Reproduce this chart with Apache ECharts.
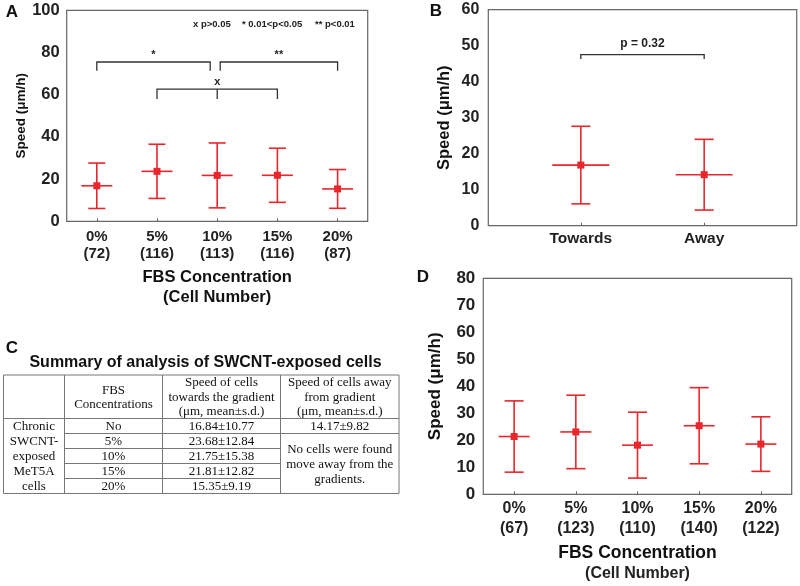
<!DOCTYPE html>
<html><head><meta charset="utf-8">
<script src="https://cdn.jsdelivr.net/npm/echarts@6/dist/echarts.min.js"></script>
<style>html,body{margin:0;padding:0;background:#fff}#c{width:800px;height:586px}</style>
</head><body><div id="c"></div>
<script>
// ---------- data ----------
const catsA = ['0%', '5%', '10%', '15%', '20%'];
const cellsA = [72, 116, 113, 116, 87];
const meanA = [16.84, 23.68, 21.75, 21.81, 15.35];
const sdA = [10.77, 12.84, 15.38, 12.82, 9.19];
const ticksA = [0, 20, 40, 60, 80, 100];

const catsB = ['Towards', 'Away'];
const meanB = [16.84, 14.17];
const sdB = [10.77, 9.82];
const ticksB = [0, 10, 20, 30, 40, 50, 60];

const catsD = ['0%', '5%', '10%', '15%', '20%'];
const cellsD = [67, 123, 110, 140, 122];
const meanD = [21.4, 23.1, 18.2, 25.4, 18.6];
const sdD = [13.2, 13.6, 12.2, 14.1, 10.1];
const ticksD = [0, 10, 20, 30, 40, 50, 60, 70, 80];

// significance brackets (panel A)
const brFromA = [0, 2, 1];
const brToA = [2, 4, 3];
const brYA = [75.5, 75.5, 62.6];
const brTipA = [71.3, 71.3, 58.0];
const brLabelA = ['*', '**', 'x'];
const brMidA = [false, false, true];
// panel B bracket
const brFromB = [0];
const brToB = [1];
const brYB = [47.5];
const brTipB = [46.3];
const brLabelB = ['p = 0.32'];

const legendA = ['x p>0.05', '* 0.01<p<0.05', '** p<0.01'];
const tableTitle = 'Summary of analysis of SWCNT-exposed cells';
const tableHead = ['', 'FBS\nConcentrations', 'Speed of cells\ntowards the gradient\n(\u03bcm, mean\u00b1s.d.)', 'Speed of cells away\nfrom gradient\n(\u03bcm, mean\u00b1s.d.)'];
const tableRowHead = 'Chronic\nSWCNT-\nexposed\nMeT5A\ncells';
const tableConc = ['No', '5%', '10%', '15%', '20%'];
const tableNote = 'No cells were found\nmove away from the\ngradients.';

// ---------- styles ----------
const RED = '#e8262c';
const LW = 1.6;
const SANS = '"Liberation Sans", Arial, sans-serif';
const SERIF = '"Liberation Serif", "Times New Roman", serif';
const FRAME = '#666';

function errRender(capW, meanW, sq) {
  return function (params, api) {
    const x = api.value(0), m = api.value(1), s = api.value(2);
    const c = api.coord([x, m]);
    const t = api.coord([x, m + s]);
    const b = api.coord([x, m - s]);
    const st = { stroke: RED, lineWidth: LW };
    return {
      type: 'group',
      children: [
        { type: 'line', shape: { x1: c[0], y1: t[1], x2: c[0], y2: b[1] }, style: st },
        { type: 'line', shape: { x1: c[0] - capW / 2, y1: t[1], x2: c[0] + capW / 2, y2: t[1] }, style: st },
        { type: 'line', shape: { x1: c[0] - capW / 2, y1: b[1], x2: c[0] + capW / 2, y2: b[1] }, style: st },
        { type: 'line', shape: { x1: c[0] - meanW / 2, y1: c[1], x2: c[0] + meanW / 2, y2: c[1] }, style: st },
        { type: 'rect', shape: { x: c[0] - sq / 2, y: c[1] - sq / 2, width: sq, height: sq }, style: { fill: RED } }
      ]
    };
  };
}

function bracketRender(labels, gapL, gapR, labelOff, fontSize, midFlags) {
  return function (params, api) {
    const i = params.dataIndex;
    const f = api.value(0), to = api.value(1), y = api.value(2), tip = api.value(3);
    const p1 = api.coord([f, y]), p2 = api.coord([to, y]);
    const t1 = api.coord([f, tip]);
    const x1 = p1[0] + gapL[i], x2 = p2[0] - gapR[i];
    const st = { stroke: '#333', lineWidth: 1.3, fill: null };
    const ch = [
      { type: 'polyline', shape: { points: [[x1, t1[1]], [x1, p1[1]], [x2, p1[1]], [x2, t1[1]]] }, style: st },
      { type: 'text', style: { text: labels[i], x: (x1 + x2) / 2, y: p1[1] - labelOff, align: 'center', verticalAlign: 'middle', font: 'bold ' + fontSize + 'px ' + SANS, fill: '#222' } }
    ];
    if (midFlags && midFlags[i]) {
      const mx = (p1[0] + p2[0]) / 2;
      ch[1].style.x = mx;
      ch.push({ type: 'line', shape: { x1: mx, y1: p1[1], x2: mx, y2: t1[1] }, style: st });
    }
    return { type: 'group', children: ch };
  };
}

function yLab(size, margin) {
  return { margin: margin, fontSize: size, fontWeight: 'bold', fontFamily: SANS, color: '#222' };
}

// ---------- table graphic ----------
const colX = [3.5, 64.5, 162.5, 280.5, 399];
const rowY = [375, 418.5, 433.5, 448.5, 463.5, 478.5, 493.5];
const g = [];
const lineSt = { stroke: '#777', lineWidth: 1 };
g.push({ type: 'rect', shape: { x: colX[0], y: rowY[0], width: colX[4] - colX[0], height: rowY[6] - rowY[0] }, style: { fill: null, stroke: '#777', lineWidth: 1 } });
for (let k = 1; k < 4; k++) g.push({ type: 'line', shape: { x1: colX[k], y1: rowY[0], x2: colX[k], y2: rowY[6] }, style: lineSt });
g.push({ type: 'line', shape: { x1: colX[0], y1: rowY[1], x2: colX[4], y2: rowY[1] }, style: lineSt });
g.push({ type: 'line', shape: { x1: colX[1], y1: rowY[2], x2: colX[4], y2: rowY[2] }, style: lineSt });
for (let r = 3; r < 6; r++) g.push({ type: 'line', shape: { x1: colX[1], y1: rowY[r], x2: colX[3], y2: rowY[r] }, style: lineSt });
const tfont = '13px ' + SERIF;
function cellText(txt, cx, cy, lh) {
  g.push({ type: 'text', style: { text: txt, x: cx, y: cy, align: 'center', verticalAlign: 'middle', font: tfont, lineHeight: lh || 14, fill: '#111' } });
}
for (let k = 1; k < 4; k++) cellText(tableHead[k], (colX[k] + colX[k + 1]) / 2, (rowY[0] + rowY[1]) / 2 + 0.5, 14.2);
cellText(tableRowHead, (colX[0] + colX[1]) / 2, (rowY[1] + rowY[6]) / 2 + 0.5, 14.8);
for (let r = 0; r < 5; r++) {
  const cy = (rowY[r + 1] + rowY[r + 2]) / 2 + 0.5;
  cellText(tableConc[r], (colX[1] + colX[2]) / 2, cy);
  cellText(meanA[r].toFixed(2) + '\u00b1' + sdA[r].toFixed(2), (colX[2] + colX[3]) / 2, cy);
}
cellText(meanB[1].toFixed(2) + '\u00b1' + sdB[1].toFixed(2), (colX[3] + colX[4]) / 2, (rowY[1] + rowY[2]) / 2 + 0.5);
cellText(tableNote, (colX[3] + colX[4]) / 2, (rowY[2] + rowY[6]) / 2 + 1, 15);
g.push({ type: 'text', style: { text: tableTitle, x: 205.5, y: 363, align: 'center', verticalAlign: 'middle', font: 'bold 16px ' + SANS, fill: '#111' } });
// panel letters
[['A', 12, 12], ['B', 436, 11], ['C', 12, 348], ['D', 423, 277]].forEach(function (p) {
  g.push({ type: 'text', style: { text: p[0], x: p[1], y: p[2], align: 'center', verticalAlign: 'middle', font: 'bold 17px ' + SANS, fill: '#111' } });
});
// legend text in A
[[193, legendA[0]], [242, legendA[1]], [315, legendA[2]]].forEach(function (p) {
  g.push({ type: 'text', style: { text: p[1], x: p[0], y: 24, align: 'left', verticalAlign: 'middle', font: 'bold 9.5px ' + SANS, fill: '#222' } });
});

const chart = echarts.init(document.getElementById('c'));
chart.setOption({
  animation: false,
  backgroundColor: '#fff',
  grid: [
    { left: 66.7, top: 10.3, width: 301, height: 211, show: true, borderColor: FRAME, borderWidth: 1.2, containLabel: false },
    { left: 488.3, top: 9.7, width: 308.4, height: 216, show: true, borderColor: FRAME, borderWidth: 1.2, containLabel: false },
    { left: 483.3, top: 278.3, width: 308.4, height: 216, show: true, borderColor: FRAME, borderWidth: 1.2, containLabel: false }
  ],
  xAxis: [
    {
      gridIndex: 0, type: 'category', data: catsA, boundaryGap: true,
      axisLine: { show: false },
      axisTick: { show: true, inside: true, length: 3, alignWithLabel: true, lineStyle: { color: FRAME } },
      axisLabel: { margin: 7, fontSize: 15, lineHeight: 17, fontWeight: 'bold', fontFamily: SANS, color: '#222', formatter: function (v, i) { return v + '\n(' + cellsA[i] + ')'; } },
      name: '{a|FBS Concentration}\n{a|(Cell Number)}', nameLocation: 'middle', nameGap: 46,
      nameTextStyle: { rich: { a: { fontSize: 16.5, fontWeight: 'bold', fontFamily: SANS, color: '#111', lineHeight: 20 } } }
    },
    {
      gridIndex: 1, type: 'value', min: -0.75, max: 1.75,
      splitLine: { show: false }, axisLine: { show: false },
      axisTick: { show: true, inside: true, length: 3, customValues: [0, 1], lineStyle: { color: FRAME } },
      axisLabel: { customValues: [0, 1], margin: 5, fontSize: 15.5, lineHeight: 16, fontWeight: 'bold', fontFamily: SANS, color: '#222', formatter: function (v) { return catsB[Math.round(v)]; } }
    },
    {
      gridIndex: 2, type: 'category', data: catsD, boundaryGap: true,
      axisLine: { show: false },
      axisTick: { show: true, inside: true, length: 3, alignWithLabel: true, lineStyle: { color: FRAME } },
      axisLabel: { margin: 4, fontSize: 16, lineHeight: 20, fontWeight: 'bold', fontFamily: SANS, color: '#222', formatter: function (v, i) { return v + '\n(' + cellsD[i] + ')'; } },
      name: '{a|FBS Concentration}\n{b|(Cell Number)}', nameLocation: 'middle', nameGap: 48,
      nameTextStyle: { rich: {
        a: { fontSize: 17.5, fontWeight: 'bold', fontFamily: SANS, color: '#111', lineHeight: 21 },
        b: { fontSize: 16, fontWeight: 'bold', fontFamily: SANS, color: '#222', lineHeight: 21 } } }
    }
  ],
  yAxis: [
    {
      gridIndex: 0, type: 'value', min: ticksA[0], max: ticksA[ticksA.length - 1], interval: ticksA[1] - ticksA[0],
      splitLine: { show: false }, axisLine: { show: false }, axisTick: { show: false },
      axisLabel: yLab(16.5, 7),
      name: 'Speed (\u03bcm/h)', nameLocation: 'middle', nameGap: 37, nameRotate: 90,
      nameTextStyle: { fontSize: 13.5, fontWeight: 'bold', fontFamily: SANS, color: '#111' }
    },
    {
      gridIndex: 1, type: 'value', min: ticksB[0], max: ticksB[ticksB.length - 1], interval: ticksB[1] - ticksB[0],
      splitLine: { show: false }, axisLine: { show: false }, axisTick: { show: false },
      axisLabel: yLab(16, 9),
      name: 'Speed (\u03bcm/h)', nameLocation: 'middle', nameGap: 35, nameRotate: 90,
      nameTextStyle: { fontSize: 16.5, fontWeight: 'bold', fontFamily: SANS, color: '#111' }
    },
    {
      gridIndex: 2, type: 'value', min: ticksD[0], max: ticksD[ticksD.length - 1], interval: ticksD[1] - ticksD[0],
      splitLine: { show: false }, axisLine: { show: false }, axisTick: { show: false },
      axisLabel: yLab(17, 8),
      name: 'Speed (\u03bcm/h)', nameLocation: 'middle', nameGap: 39, nameRotate: 90,
      nameTextStyle: { fontSize: 17, fontWeight: 'bold', fontFamily: SANS, color: '#111' }
    }
  ],
  series: [
    { type: 'custom', xAxisIndex: 0, yAxisIndex: 0, clip: false, renderItem: errRender(17, 31, 7),
      data: meanA.map(function (m, i) { return [i, m, sdA[i]]; }) },
    { type: 'custom', xAxisIndex: 1, yAxisIndex: 1, clip: false, renderItem: errRender(19, 57, 7),
      data: meanB.map(function (m, i) { return [i, m, sdB[i]]; }) },
    { type: 'custom', xAxisIndex: 2, yAxisIndex: 2, clip: false, renderItem: errRender(19, 31, 7),
      data: meanD.map(function (m, i) { return [i, m, sdD[i]]; }) },
    { type: 'custom', xAxisIndex: 0, yAxisIndex: 0, clip: false,
      renderItem: bracketRender(brLabelA, [0, 3, 0], [7, 0, 0], 7, 11, brMidA),
      data: brFromA.map(function (f, i) { return [f, brToA[i], brYA[i], brTipA[i]]; }) },
    { type: 'custom', xAxisIndex: 1, yAxisIndex: 1, clip: false,
      renderItem: bracketRender(brLabelB, [0], [0], 11, 12, null),
      data: brFromB.map(function (f, i) { return [f, brToB[i], brYB[i], brTipB[i]]; }) }
  ],
  graphic: g
});
</script></body></html>
